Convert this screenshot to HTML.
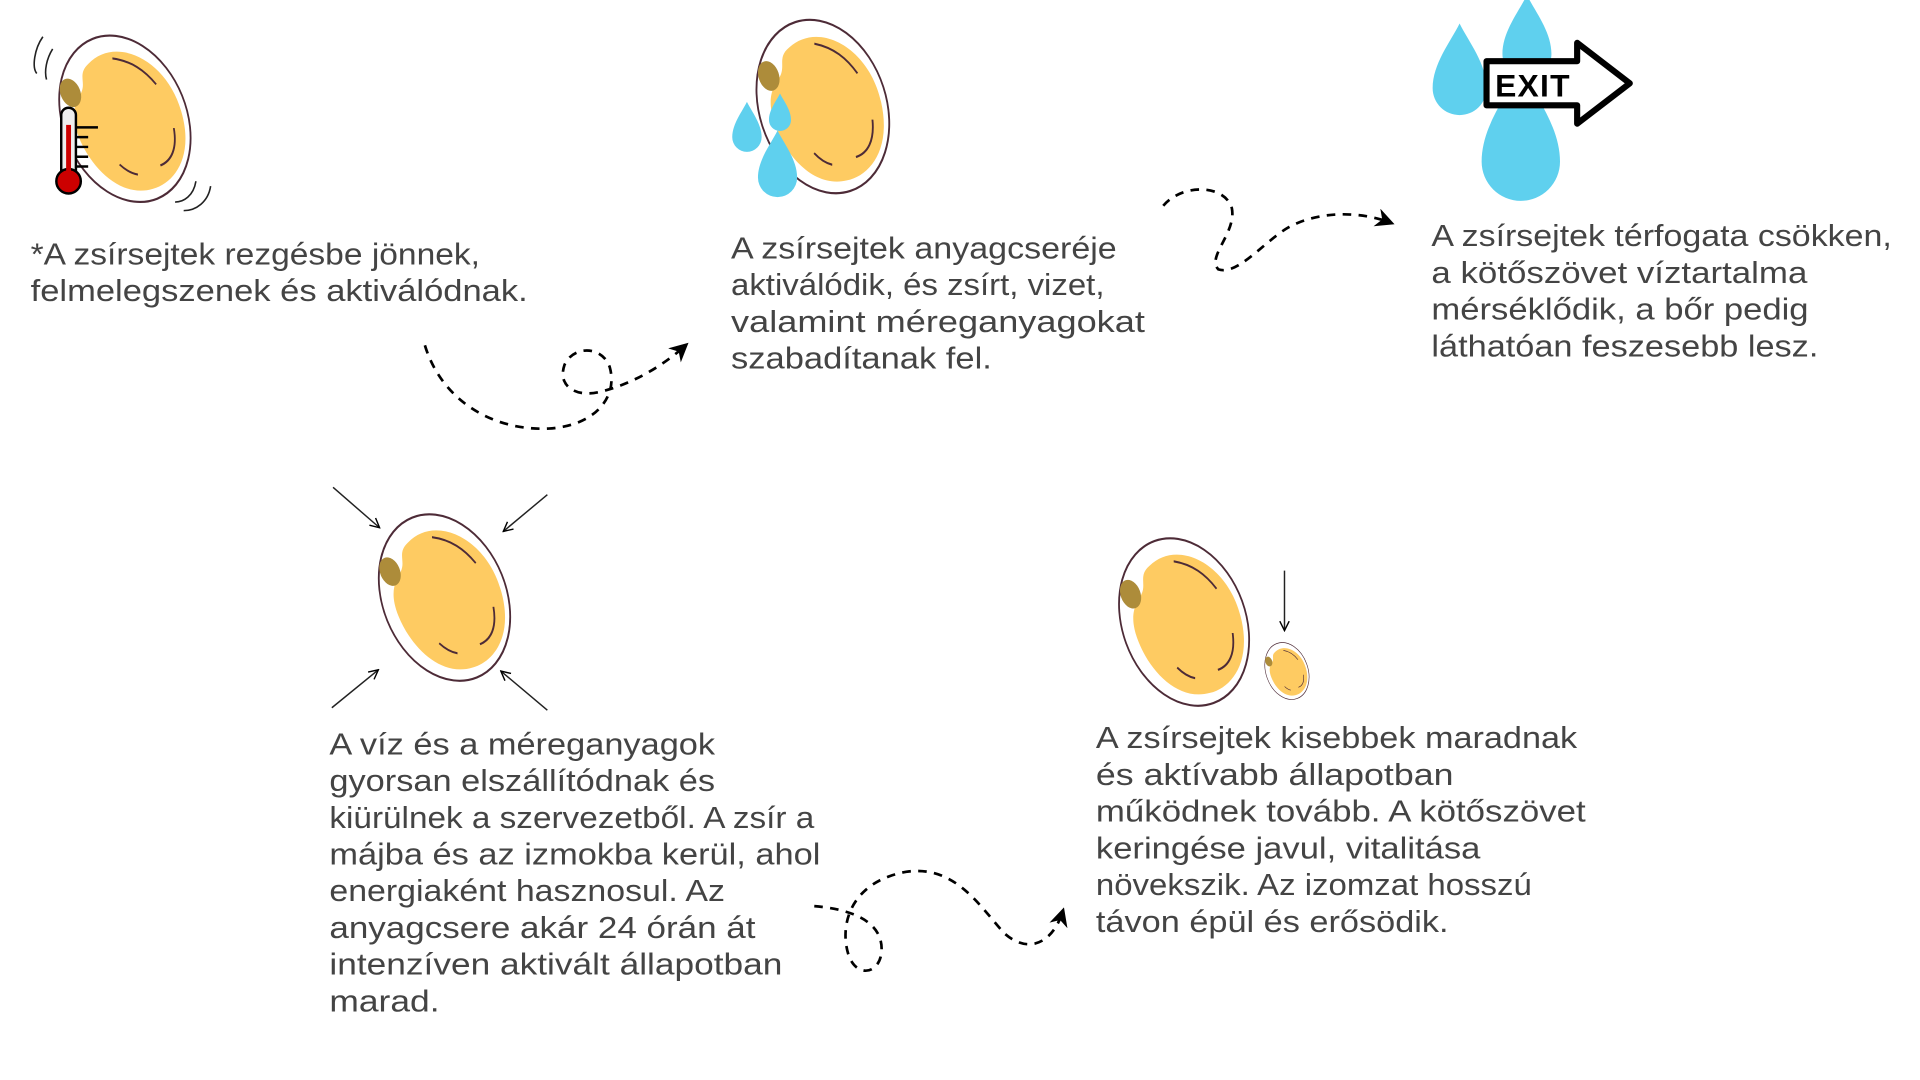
<!DOCTYPE html>
<html><head><meta charset="utf-8"><style>
html,body{margin:0;padding:0;background:#fff;}
svg{display:block;}
text{font-family:"Liberation Sans",sans-serif;font-size:25px;fill:#444;}
</style></head><body>
<svg width="1920" height="1080" viewBox="0 0 1568 882" xmlns="http://www.w3.org/2000/svg">
<defs>
<path id="drop" d="M0,-2.4 C0.35,-1.7 1,-0.9 1,0 A1,1 0 0 1 -1,0 C-1,-0.9 -0.35,-1.7 0,-2.4 Z"/>
<marker id="ah" viewBox="0 0 10 10" refX="8" refY="5" markerWidth="7" markerHeight="7" orient="auto"><path d="M0,0 L10,5 L0,10 L3,5 Z" fill="#000"/></marker>
<marker id="av" viewBox="0 0 10 10" refX="9" refY="5" markerWidth="8" markerHeight="8" orient="auto"><path d="M1,1 L9,5 L1,9" fill="none" stroke="#000" stroke-width="1.2"/></marker>
<g id="cell0">
<ellipse cx="0" cy="0" rx="56" ry="64" fill="#fff" stroke="#4d2b37" stroke-width="1.6"/>
<path d="M-12,-48 C20,-60 55,-30 50,10 C46,45 20,58 0,56 C-30,54 -45,25 -45,0 C-45,-20 -35,-25 -28,-30 C-20,-36 -25,-44 -12,-48 Z" fill="#fecb62"/>
<ellipse cx="-37" cy="-33" rx="9" ry="11" fill="#ad8c3a"/>
<path d="M10,-45 C25,-38 33,-28 38,-15" fill="none" stroke="#4d2b37" stroke-width="1.6"/>
<path d="M38,20 C34,35 25,42 14,42" fill="none" stroke="#4d2b37" stroke-width="1.6"/>
<path d="M-20,30 C-16,37 -12,40 -8,42" fill="none" stroke="#4d2b37" stroke-width="1.6"/>
</g>
<g id="cell"><g transform="scale(0.9,1.1)"><use href="#cell0"/></g></g>
</defs>

<!-- cell 1 -->
<g transform="translate(102,97) rotate(-22)"><use href="#cell"/></g>
<path d="M35,30 C28,40 26,55 30,60 M43,40 C38,48 36,58 38,65" fill="none" stroke="#222" stroke-width="1.3"/>
<path d="M172,152 C170,165 160,172 150,172 M160,148 C158,160 150,165 143,165" fill="none" stroke="#222" stroke-width="1.3"/>
<rect x="50" y="88" width="12" height="58" rx="6" fill="#eee" stroke="#000" stroke-width="2"/>
<circle cx="56" cy="148" r="10" fill="#c00" stroke="#000" stroke-width="2"/>
<rect x="54" y="102" width="4" height="46" fill="#c00"/>
<path d="M62,104 H80 M62,112 H72 M62,120 H72 M62,128 H72 M62,136 H72" stroke="#000" stroke-width="2"/>

<!-- cell 2 -->
<g transform="translate(672,87) rotate(-18) scale(1.03)"><use href="#cell"/></g>
<g fill="#5fd0ee">
<use href="#drop" transform="translate(610,112) scale(12)"/>
<use href="#drop" transform="translate(637,98) scale(9)"/>
<use href="#drop" transform="translate(635,145) scale(16)"/>
</g>

<!-- exit -->
<g fill="#5fd0ee">
<use href="#drop" transform="translate(1192,72) scale(22)"/>
<use href="#drop" transform="translate(1247,44) scale(20)"/>
<use href="#drop" transform="translate(1242,132) scale(32)"/>
</g>
<path d="M1214,50 H1288 V35 L1331,68 L1288,101 V86 H1214 Z" fill="#fff" stroke="#000" stroke-width="5" stroke-linejoin="round"/>
<text x="1221" y="79" style="font-weight:bold;font-size:26px;fill:#000;letter-spacing:1px">EXIT</text>

<!-- cell 4 -->
<g transform="translate(363,488) rotate(-22)"><use href="#cell"/></g>
<g stroke="#222" stroke-width="1.2" fill="none" marker-end="url(#av)">
<line x1="272" y1="398" x2="310" y2="431"/>
<line x1="447" y1="404" x2="411" y2="434"/>
<line x1="271" y1="578" x2="309" y2="547"/>
<line x1="447" y1="580" x2="409" y2="548"/>
<line x1="1049" y1="466" x2="1049" y2="515"/>
</g>

<!-- cell 5 -->
<g transform="translate(967,508) rotate(-20)"><use href="#cell"/></g>
<g transform="translate(1051,548) rotate(-20) scale(0.34)"><use href="#cell"/></g>

<!-- connectors -->
<g fill="none" stroke="#000" stroke-width="2.2" stroke-dasharray="7,6">
<path d="M347,282 C360,325 400,352 448,350 C485,348 505,325 498,300 C492,282 468,282 461,298 C455,315 470,325 490,320 C515,314 540,300 560,282" marker-end="url(#ah)"/>
<path d="M950,168 C965,150 1000,150 1006,170 C1010,190 985,210 995,220 C1010,225 1030,200 1050,187 C1075,172 1110,172 1136,182" marker-end="url(#ah)"/>
<path d="M665,740 C690,742 720,750 720,775 C720,795 700,800 693,780 C685,755 695,720 740,712 C780,706 800,740 820,762 C840,780 860,770 868,744" marker-end="url(#ah)"/>
</g>

<!-- texts -->
<text x="25" y="216" textLength="367" lengthAdjust="spacingAndGlyphs">*A zsírsejtek rezgésbe jönnek,</text>
<text x="25" y="246" textLength="406" lengthAdjust="spacingAndGlyphs">felmelegszenek és aktiválódnak.</text>

<text x="597" y="211" textLength="315" lengthAdjust="spacingAndGlyphs">A zsírsejtek anyagcseréje</text>
<text x="597" y="241" textLength="305" lengthAdjust="spacingAndGlyphs">aktiválódik, és zsírt, vizet,</text>
<text x="597" y="271" textLength="338" lengthAdjust="spacingAndGlyphs">valamint méreganyagokat</text>
<text x="597" y="301" textLength="213" lengthAdjust="spacingAndGlyphs">szabadítanak fel.</text>

<text x="1169" y="201" textLength="376" lengthAdjust="spacingAndGlyphs">A zsírsejtek térfogata csökken,</text>
<text x="1169" y="231" textLength="307" lengthAdjust="spacingAndGlyphs">a kötőszövet víztartalma</text>
<text x="1169" y="261" textLength="308" lengthAdjust="spacingAndGlyphs">mérséklődik, a bőr pedig</text>
<text x="1169" y="291" textLength="316" lengthAdjust="spacingAndGlyphs">láthatóan feszesebb lesz.</text>

<text x="269" y="616" textLength="315" lengthAdjust="spacingAndGlyphs">A víz és a méreganyagok</text>
<text x="269" y="646" textLength="315" lengthAdjust="spacingAndGlyphs">gyorsan elszállítódnak és</text>
<text x="269" y="676" textLength="396" lengthAdjust="spacingAndGlyphs">kiürülnek a szervezetből. A zsír a</text>
<text x="269" y="706" textLength="401" lengthAdjust="spacingAndGlyphs">májba és az izmokba kerül, ahol</text>
<text x="269" y="736" textLength="323" lengthAdjust="spacingAndGlyphs">energiaként hasznosul. Az</text>
<text x="269" y="766" textLength="348" lengthAdjust="spacingAndGlyphs">anyagcsere akár 24 órán át</text>
<text x="269" y="796" textLength="370" lengthAdjust="spacingAndGlyphs">intenzíven aktivált állapotban</text>
<text x="269" y="826" textLength="90" lengthAdjust="spacingAndGlyphs">marad.</text>

<text x="895" y="611" textLength="393" lengthAdjust="spacingAndGlyphs">A zsírsejtek kisebbek maradnak</text>
<text x="895" y="641" textLength="292" lengthAdjust="spacingAndGlyphs">és aktívabb állapotban</text>
<text x="895" y="671" textLength="400" lengthAdjust="spacingAndGlyphs">működnek tovább. A kötőszövet</text>
<text x="895" y="701" textLength="314" lengthAdjust="spacingAndGlyphs">keringése javul, vitalitása</text>
<text x="895" y="731" textLength="356" lengthAdjust="spacingAndGlyphs">növekszik. Az izomzat hosszú</text>
<text x="895" y="761" textLength="288" lengthAdjust="spacingAndGlyphs">távon épül és erősödik.</text>
</svg>
</body></html>
